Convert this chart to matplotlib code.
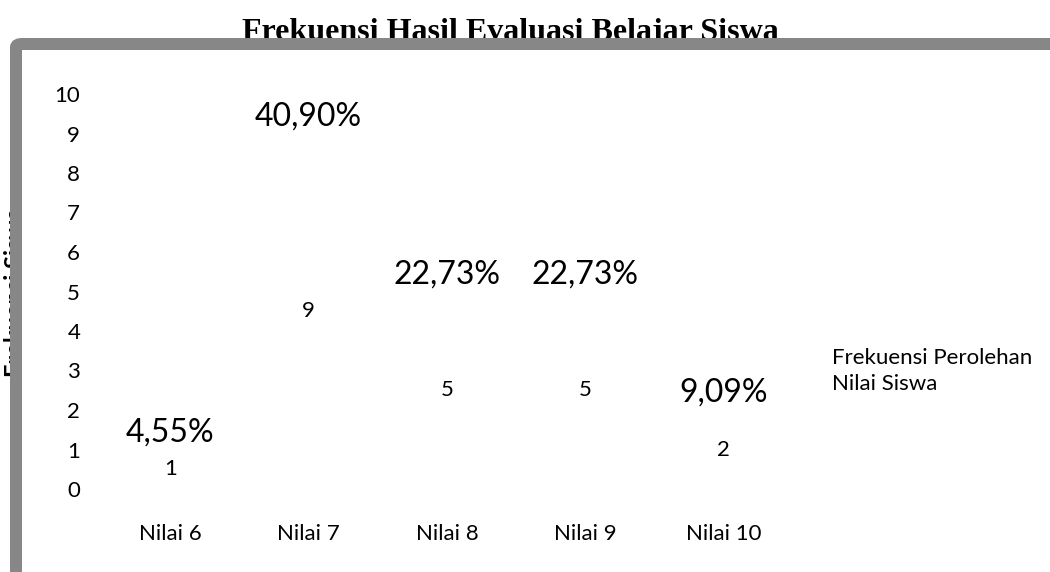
import matplotlib
matplotlib.use("Agg")
import matplotlib.pyplot as plt
from matplotlib.patches import FancyBboxPatch

# ── DATA ──────────────────────────────────────────────────────────────────────

categories = ["Nilai 6", "Nilai 7", "Nilai 8", "Nilai 9", "Nilai 10"]
frekuensi = [1, 9, 5, 5, 2]
persen = ["4,55%", "40,90%", "22,73%", "22,73%", "9,09%"]
y_ticks = [0, 1, 2, 3, 4, 5, 6, 7, 8, 9, 10]

TITLE = "Frekuensi Hasil Evaluasi Belajar Siswa"
Y_LABEL = "Frekuensi Siswa"
SERIES = "Frekuensi Perolehan\nNilai Siswa"

# ── STYLE ─────────────────────────────────────────────────────────────────────

FONT = ["Lato", "DejaVu Sans"]
FRAME_COLOR = "#878787"
W, H = 1050, 572

plt.rcParams["font.family"] = FONT

fig = plt.figure(figsize=(W / 100, H / 100), dpi=100, facecolor="white")

# plot area, placed in pixels of the reference
left, right = 101 / W, 793 / W
bottom, top = 1 - 489 / H, 1 - 94 / H
ax = fig.add_axes([left, bottom, right - left, top - bottom])
ax.set_facecolor("none")

x = list(range(len(categories)))
bars = ax.bar(x, frekuensi, width=0.6, facecolor="none", edgecolor="none",
              label=SERIES)

# data labels: count in the middle, percent above
ax.bar_label(bars, labels=[str(v) for v in frekuensi], label_type="center",
             fontsize=16)
ax.bar_label(bars, labels=persen, label_type="edge", padding=1.5, fontsize=23)

ax.set_xlim(-0.5, len(categories) - 0.5)
ax.set_ylim(0, 10)
ax.set_xticks(x)
ax.set_xticklabels(categories, fontsize=16)
ax.set_yticks(y_ticks)
ax.set_yticklabels([str(t) for t in y_ticks], fontsize=16)
ax.tick_params(axis="both", length=0)
ax.tick_params(axis="y", pad=15)
ax.tick_params(axis="x", pad=25)
for s in ax.spines.values():
    s.set_visible(False)

# legend with no visible key
leg = ax.legend(handles=[bars], labels=[SERIES], loc="center left",
                bbox_to_anchor=(832 / W, 1 - 371 / H),
                bbox_transform=fig.transFigure, frameon=False,
                handlelength=0, handletextpad=0, borderpad=0,
                borderaxespad=0, fontsize=16)
for t in leg.get_texts():
    t.set_linespacing(1.35)

# title and axis title sit under the grey frame
fig.text(510 / W, 1 - 40 / H, TITLE, ha="center", va="baseline",
         family=["Liberation Serif", "DejaVu Serif"], fontweight="bold",
         fontsize=23, zorder=1)
fig.text(16 / W, 1 - 292 / H, Y_LABEL, rotation=90, ha="center", va="center",
         fontweight="bold", fontsize=17, zorder=1)

# grey frame (only top and left edges visible)
frame = FancyBboxPatch((16 / W, -0.2), 1.2, 0.2 + (1 - 44 / H),
                       boxstyle="round,pad=0,rounding_size=0.006",
                       transform=fig.transFigure, facecolor="none",
                       edgecolor=FRAME_COLOR, linewidth=12 * 0.72,
                       clip_on=False, zorder=10)
fig.patches.append(frame)

plt.savefig("out.png", dpi=100, facecolor="white")
